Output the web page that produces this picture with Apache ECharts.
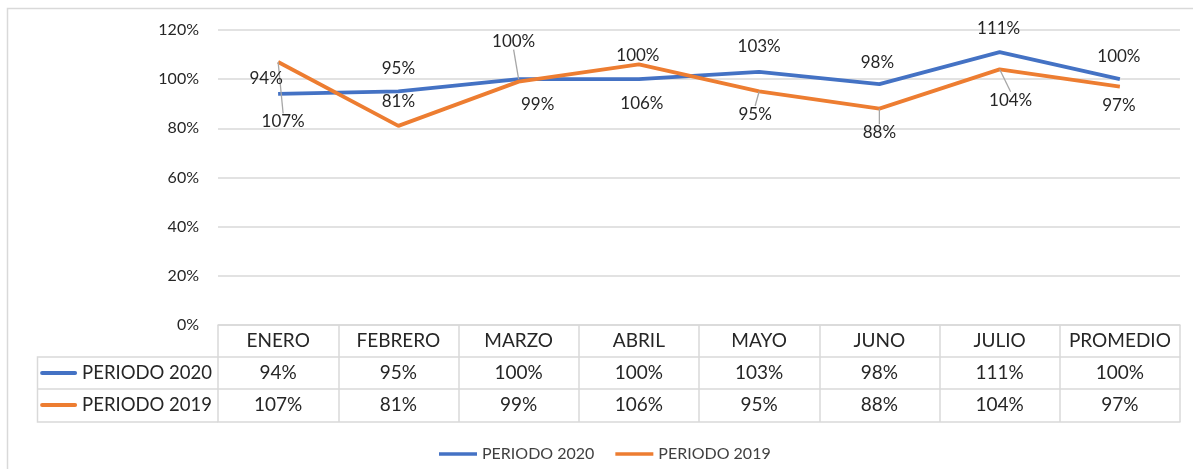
<!DOCTYPE html>
<html>
<head>
<meta charset="utf-8">
<script src="https://cdn.jsdelivr.net/npm/echarts@6/dist/echarts.min.js"></script>
<style>
  html, body { margin: 0; padding: 0; background: #ffffff; }
  #chart { width: 1193px; height: 469px; }
</style>
</head>
<body>
<div id="chart"></div>
<script>
// Monthly compliance per period, plus the average column
const categories = ['ENERO', 'FEBRERO', 'MARZO', 'ABRIL', 'MAYO', 'JUNO', 'JULIO', 'PROMEDIO'];
const seriesNames = ['PERIODO 2020', 'PERIODO 2019'];
const periodo2020 = [94, 95, 100, 100, 103, 98, 111, 100];
const periodo2019 = [107, 81, 99, 106, 95, 88, 104, 97];
const yTicks = { min: 0, max: 120, interval: 20 };

// Label placement relative to each point (pixels) and which labels get a leader line
const labelShift = [
  [[-12, -15], [0, -23], [-5, -38], [-1, -24], [0, -25], [-2, -22], [-1, -24], [-1, -23]],
  [[5, 60], [0, -24], [19, 23], [3, 39], [-4, 23], [0, 24], [11, 31], [-1, 19]]
];
const leaderLine = [
  [false, false, true, false, false, false, false, false],
  [true, false, false, false, true, true, true, false]
];

const COLORS = ['#4472C4', '#ED7D31'];
const FONT = 'Lato, "Open Sans", sans-serif';
const GRID_LINE = '#d9d9d9';
const TEXT = '#262626';
const ROW_H = 32;

const pct = v => v + '%';

function seriesData(values, s) {
  return values.map((v, i) => ({
    value: v,
    labelLine: { show: leaderLine[s][i] }
  }));
}

function lineSeries(values, s) {
  return {
    name: seriesNames[s],
    type: 'line',
    data: seriesData(values, s),
    symbol: 'circle',
    symbolSize: 0.01,
    showSymbol: true,
    lineStyle: { color: COLORS[s], width: 3.8 },
    itemStyle: { color: COLORS[s] },
    label: {
      show: true,
      position: 'inside',
      formatter: p => pct(p.value),
      fontFamily: FONT,
      fontSize: 17,
      color: TEXT
    },
    labelLine: { show: false, lineStyle: { color: '#a6a6a6', width: 1.3 } },
    labelLayout: p => ({ dx: labelShift[s][p.dataIndex][0], dy: labelShift[s][p.dataIndex][1] })
  };
}

// Row of the data table: an x axis offset below the plot, labels read from the series
function tableRowAxis(values, s, offset) {
  return {
    type: 'category',
    data: categories,
    position: 'bottom',
    offset: offset,
    boundaryGap: true,
    axisLine: { show: true, lineStyle: { color: GRID_LINE, width: 1.5 } },
    axisTick: { show: false },
    axisLabel: {
      interval: 0,
      margin: 0,
      lineHeight: ROW_H,
      fontFamily: FONT,
      fontSize: 19,
      color: TEXT,
      formatter: (v, i) => pct(values[i])
    },
    name: '{k|}{t|' + seriesNames[s] + '}',
    nameLocation: 'start',
    nameGap: 6,
    nameTextStyle: {
      verticalAlign: 'top',
      align: 'right',
      lineHeight: ROW_H,
      rich: {
        k: { width: 37, height: 4, backgroundColor: COLORS[s], borderRadius: 2 },
        t: { fontFamily: FONT, fontSize: 18.5, color: TEXT, padding: [0, 0, 0, 5], lineHeight: ROW_H }
      }
    }
  };
}

const chart = echarts.init(document.getElementById('chart'), null, { renderer: 'canvas' });

const option = {
  backgroundColor: '#ffffff',
  animation: false,
  grid: { left: 218, right: 13, top: 30, bottom: 144, containLabel: false },
  legend: {
    data: seriesNames.map(n => ({ name: n, icon: 'rect' })),
    left: 434,
    top: 441,
    itemWidth: 38,
    itemHeight: 3.5,
    itemGap: 21,
    textStyle: { fontFamily: FONT, fontSize: 16, color: '#404040' }
  },
  xAxis: [
    {
      type: 'category',
      data: categories,
      position: 'bottom',
      boundaryGap: true,
      axisLine: { show: true, lineStyle: { color: GRID_LINE, width: 1.5 } },
      axisTick: { show: true, interval: 0, length: ROW_H * 3 + 1, lineStyle: { color: GRID_LINE, width: 1.5 } },
      axisLabel: {
        interval: 0,
        margin: 0,
        lineHeight: ROW_H,
        fontFamily: FONT,
        fontSize: 19,
        color: TEXT
      }
    },
    tableRowAxis(periodo2020, 0, ROW_H),
    tableRowAxis(periodo2019, 1, ROW_H * 2),
    {
      type: 'category',
      data: categories,
      position: 'bottom',
      offset: ROW_H * 3 + 1,
      axisLine: { show: true, lineStyle: { color: GRID_LINE, width: 1.5 } },
      axisTick: { show: false },
      axisLabel: { show: false }
    }
  ],
  yAxis: {
    type: 'value',
    min: yTicks.min,
    max: yTicks.max,
    interval: yTicks.interval,
    axisLine: { show: false },
    axisTick: { show: false },
    axisLabel: { formatter: '{value}%', fontFamily: FONT, fontSize: 16, color: TEXT, margin: 19 },
    splitLine: { lineStyle: { color: GRID_LINE, width: 1.5 } }
  },
  series: [lineSeries(periodo2020, 0), lineSeries(periodo2019, 1)],
  graphic: [
    // chart frame
    { type: 'rect', silent: true, z: -1, shape: { x: 7.5, y: 8.5, width: 1300, height: 600 },
      style: { fill: null, stroke: GRID_LINE, lineWidth: 1.5 } },
    // borders of the series-name column of the data table
    { type: 'polyline', silent: true, shape: { points: [[218, 357], [37.5, 357], [37.5, 422], [218, 422]] },
      style: { fill: null, stroke: GRID_LINE, lineWidth: 1.5 } },
    { type: 'line', silent: true, shape: { x1: 37.5, y1: 389, x2: 218, y2: 389 },
      style: { stroke: GRID_LINE, lineWidth: 1.5 } }
  ]
};

chart.setOption(option);
</script>
</body>
</html>
